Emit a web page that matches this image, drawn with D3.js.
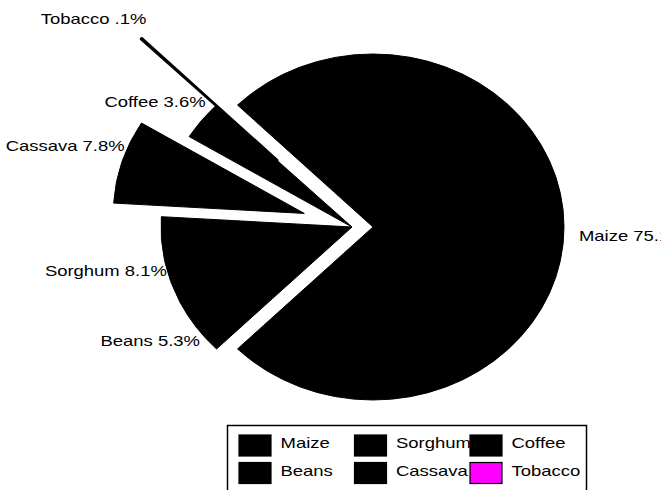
<!DOCTYPE html>
<html>
<head>
<meta charset="utf-8">
<script src="https://cdn.jsdelivr.net/npm/d3@7"></script>
<style>
  body { margin: 0; background: #fff; }
  svg { display: block; }
  text { font-family: "Liberation Sans", Arial, sans-serif; fill: #000; }
</style>
</head>
<body>
<div id="chart"></div>
<script>
// Data
var crops = ["Maize", "Beans", "Sorghum", "Cassava", "Coffee", "Tobacco"];
var shares = [75.1, 5.3, 8.1, 7.8, 3.6, 0.1];
var shareLabels = ["75.1%", "5.3%", "8.1%", "7.8%", "3.6%", ".1%"];
var fills = ["#000000", "#000000", "#000000", "#000000", "#000000", "#ff00ff"];

// Layout
var svgWidth = 661;
var svgHeight = 490;
var cx = 352, cy = 227;     // pie centre
var rx = 191, ry = 173;     // the pie is drawn slightly flattened
var explode = { Maize: 21, Cassava: 50, Tobacco: 105 };

var svg = d3.select("#chart")
  .append("svg")
  .attr("width", svgWidth)
  .attr("height", svgHeight);

var data = crops.map(function(c, i) {
  return { crop: c, value: shares[i], label: shareLabels[i], fill: fills[i] };
});

// Maize is centred on 3 o'clock, the rest follow clockwise
var total = d3.sum(shares);
var start = Math.PI / 2 - Math.PI * shares[0] / total;

var pie = d3.pie()
  .sort(null)
  .value(d => d.value)
  .startAngle(start)
  .endAngle(start + 2 * Math.PI);

var arcs = pie(data);
var arc = d3.arc().innerRadius(0).outerRadius(rx);
var yScale = ry / rx;

function midAngle(d) { return (d.startAngle + d.endAngle) / 2; }

function offset(d) {
  var a = midAngle(d), e = explode[d.data.crop] || 0;
  return [e * Math.sin(a), -e * Math.cos(a)];
}

// Slices
var pieGroup = svg.append("g")
  .attr("transform", `translate(${cx}, ${cy}) scale(1, ${yScale})`);

pieGroup.selectAll("path")
  .data(arcs)
  .enter()
  .append("path")
  .attr("d", arc)
  .attr("transform", d => { var o = offset(d); return `translate(${o[0]}, ${o[1]})`; })
  .attr("fill", d => d.data.fill)
  .attr("stroke", "#000")
  .attr("stroke-width", d => d.data.value < 1 ? 2.4 : 1)
  .attr("stroke-linejoin", "round")
  .attr("vector-effect", "non-scaling-stroke");

// Slice labels, outside the rim
var labels = svg.selectAll("g.slice-label")
  .data(arcs)
  .enter()
  .append("g")
  .attr("class", "slice-label")
  .attr("transform", function(d) {
    var a = midAngle(d), o = offset(d);
    var px = cx + o[0] + rx * Math.sin(a);
    var py = cy + o[1] * yScale - ry * Math.cos(a);
    var right = Math.sin(a) > 0;
    var upper = Math.cos(a) > 0.05;
    var x = px + 10 * Math.sin(a) + (right ? 5 : 12);
    var y = py - 10 * Math.cos(a) + (upper ? -13 : 8) + 5.5;
    return `translate(${x}, ${y}) scale(1.23, 1)`;
  });

labels.append("text")
  .attr("text-anchor", d => Math.sin(midAngle(d)) > 0 ? "start" : "end")
  .attr("font-size", "15px")
  .text(d => d.data.crop + " " + d.data.label);

// Legend
var legend = svg.append("g");

legend.append("rect")
  .attr("x", 227.5)
  .attr("y", 425.5)
  .attr("width", 359)
  .attr("height", 80)
  .attr("fill", "none")
  .attr("stroke", "#000")
  .attr("stroke-width", 1.5);

var items = legend.selectAll("g.item")
  .data(data)
  .enter()
  .append("g")
  .attr("class", "item")
  .attr("transform", (d, i) => `translate(${239 + Math.floor(i / 2) * 115.5}, ${435 + (i % 2) * 27.5})`);

items.append("rect")
  .attr("width", 32)
  .attr("height", 21)
  .attr("fill", d => d.fill)
  .attr("stroke", "#000")
  .attr("stroke-width", 1.2);

items.append("text")
  .attr("transform", "translate(41.5, 13) scale(1.32, 1)")
  .attr("font-size", "14px")
  .text(d => d.crop);
</script>
</body>
</html>
